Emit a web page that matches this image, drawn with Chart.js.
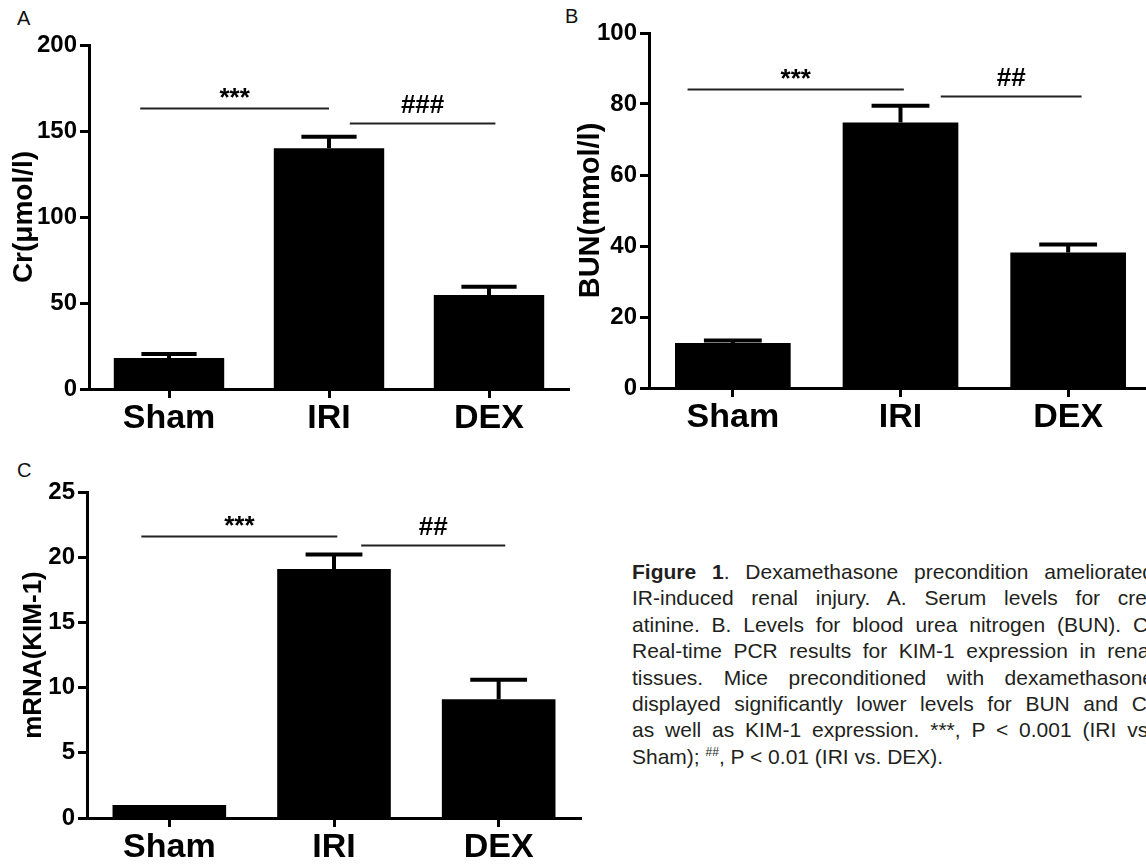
<!DOCTYPE html>
<html>
<head>
<meta charset="utf-8">
<script src="https://cdn.jsdelivr.net/npm/chart.js@4.4.1/dist/chart.umd.min.js"></script>
<style>
  html, body { margin: 0; padding: 0; background: #fff; }
  body { width: 1146px; height: 866px; overflow: hidden; position: relative; }
  canvas { position: absolute; }
  .letter { position: absolute; font: 20px "Liberation Sans", Arial, sans-serif; line-height: 20px; color: #111; }
  #caption { position: absolute; left: 632px; top: 559px; width: 522px;
    font: 21px "Liberation Sans", Arial, sans-serif; line-height: 26.4px; color: #231f20; }
  #caption div { text-align: justify; text-align-last: justify; }
  #caption div.last { text-align-last: left; }
  #caption sup { font-size: 12px; line-height: 0; }
</style>
</head>
<body>
<div class="letter" style="left:17px; top:8px;">A</div>
<div class="letter" style="left:565px; top:6px;">B</div>
<div class="letter" style="left:17px; top:460px;">C</div>

<canvas id="chart-a" width="575" height="445" style="left:0; top:0;"></canvas>
<canvas id="chart-b" width="600" height="445" style="left:560px; top:0;"></canvas>
<canvas id="chart-c" width="590" height="436" style="left:0; top:430px;"></canvas>

<div id="caption">
  <div><b>Figure 1</b>. Dexamethasone precondition ameliorated</div>
  <div>IR-induced renal injury. A. Serum levels for cre-</div>
  <div>atinine. B. Levels for blood urea nitrogen (BUN). C.</div>
  <div>Real-time PCR results for KIM-1 expression in renal</div>
  <div>tissues. Mice preconditioned with dexamethasone</div>
  <div>displayed significantly lower levels for BUN and Cr</div>
  <div>as well as KIM-1 expression. ***, P &lt; 0.001 (IRI vs.</div>
  <div class="last">Sham); <sup>##</sup>, P &lt; 0.01 (IRI vs. DEX).</div>
</div>

<script>
const groups = ['Sham', 'IRI', 'DEX'];

// A: serum creatinine
const crMean = [18, 140, 54.7];
const crErr = [2.3, 6.7, 4.8];
// significance bars: [from category, to category, level, label]
const crSig = [[-0.18, 1.0, 163.4, '***'], [1.13, 2.04, 154.7, '###']];

// B: blood urea nitrogen
const bunMean = [12.7, 74.8, 38.2];
const bunErr = [0.7, 4.7, 2.2];
const bunSig = [[-0.27, 1.02, 84.3, '***'], [1.24, 2.08, 82.2, '##']];

// C: KIM-1 mRNA
const kimMean = [1.0, 19.1, 9.1];
const kimErr = [0, 1.1, 1.5];
const kimSig = [[-0.17, 1.02, 21.6, '***'], [1.165, 2.04, 20.9, '##']];

const FONT = '"Liberation Sans", Arial, sans-serif';

// upward-only SEM bars with a cap half the bar width
const errorBars = {
  id: 'errorBars',
  afterDatasetsDraw(chart, args, opts) {
    const { ctx } = chart;
    const y = chart.scales.y;
    const meta = chart.getDatasetMeta(0);
    const vals = chart.data.datasets[0].data;
    ctx.save();
    ctx.strokeStyle = '#000';
    ctx.lineWidth = 4;
    meta.data.forEach((bar, i) => {
      if (!opts.errors[i]) return;
      const top = y.getPixelForValue(vals[i] + opts.errors[i]);
      const half = bar.width / 4;
      ctx.beginPath();
      ctx.moveTo(bar.x, bar.y);
      ctx.lineTo(bar.x, top);
      ctx.moveTo(bar.x - half, top);
      ctx.lineTo(bar.x + half, top);
      ctx.stroke();
    });
    ctx.restore();
  }
};

// significance lines with their star / hash labels
const sigMarks = {
  id: 'sigMarks',
  afterDatasetsDraw(chart, args, opts) {
    const { ctx } = chart;
    const { x, y } = chart.scales;
    ctx.save();
    opts.marks.forEach(([from, to, level, label]) => {
      const x1 = x.getPixelForValue(from);
      const x2 = x.getPixelForValue(to);
      const yy = Math.round(y.getPixelForValue(level)) + 0.5;
      ctx.strokeStyle = '#222';
      ctx.lineWidth = 2;
      ctx.beginPath();
      ctx.moveTo(x1, yy);
      ctx.lineTo(x2, yy);
      ctx.stroke();
      ctx.font = 'bold 26px ' + FONT;
      ctx.fillStyle = '#000';
      ctx.textAlign = 'center';
      ctx.textBaseline = 'alphabetic';
      const m = ctx.measureText(label);
      ctx.fillText(label, (x1 + x2) / 2, yy - 11 - m.actualBoundingBoxDescent);
    });
    ctx.restore();
  }
};

function makeChart(id, cfg) {
  return new Chart(document.getElementById(id), {
    type: 'bar',
    data: {
      labels: groups,
      datasets: [{
        data: cfg.values,
        backgroundColor: '#000',
        borderWidth: 0,
        categoryPercentage: 1,
        barPercentage: 0.69,
      }]
    },
    options: {
      responsive: false,
      animation: false,
      layout: { padding: { top: cfg.padTop, right: cfg.padRight, left: 0, bottom: 0 } },
      plugins: {
        legend: { display: false },
        tooltip: { enabled: false },
        errorBars: { errors: cfg.errors },
        sigMarks: { marks: cfg.marks },
      },
      scales: {
        x: {
          offset: true,
          afterFit: (s) => { s.height = cfg.xHeight; },
          grid: { offset: false, drawOnChartArea: false, tickLength: 9, tickWidth: 3, tickColor: '#000' },
          border: { color: '#000', width: 3 },
          ticks: { color: '#000', padding: 0, maxRotation: 0, autoSkip: false,
                   font: { family: FONT, size: 34, weight: 'bold' } },
        },
        y: {
          min: 0,
          max: cfg.max,
          afterFit: (s) => { s.width = cfg.yWidth; },
          grid: { drawOnChartArea: false, tickLength: 9, tickWidth: 3, tickColor: '#000' },
          border: { color: '#000', width: 3 },
          ticks: { stepSize: cfg.step, color: '#000', padding: 3,
                   font: { family: FONT, size: 24, weight: 'bold' } },
          title: {
            display: true,
            text: cfg.title,
            color: '#000',
            padding: { top: cfg.titlePad, bottom: 0 },
            font: { family: FONT, size: cfg.titleSize, weight: 'bold' },
          },
        },
      },
    },
    plugins: [errorBars, sigMarks],
  });
}

makeChart('chart-a', {
  values: crMean, errors: crErr, marks: crSig,
  max: 200, step: 50, title: 'Cr(μmol/l)', titleSize: 28, titlePad: 7,
  padTop: 45, padRight: 6, yWidth: 89, xHeight: 56,
});

makeChart('chart-b', {
  values: bunMean, errors: bunErr, marks: bunSig,
  max: 100, step: 20, title: 'BUN(mmol/l)', titleSize: 29, titlePad: 14,
  padTop: 33, padRight: 8, yWidth: 89, xHeight: 57,
});

makeChart('chart-c', {
  values: kimMean, errors: kimErr, marks: kimSig,
  max: 25, step: 5, title: 'mRNA(KIM-1)', titleSize: 26, titlePad: 18,
  padTop: 62, padRight: 9, yWidth: 87, xHeight: 48,
});
</script>
</body>
</html>
